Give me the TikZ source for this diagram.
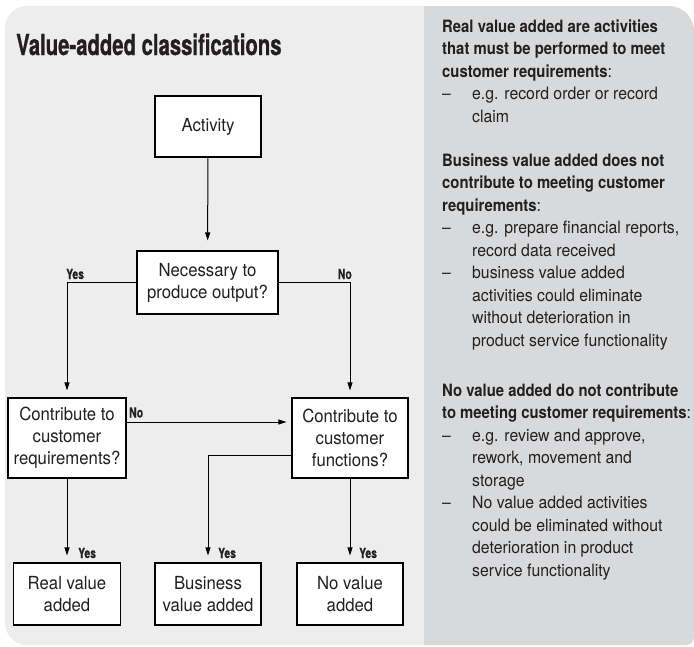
\documentclass[tikz,border=0pt]{standalone}
\usepackage{fontspec}
\setmainfont{TeX Gyre Heros}[FakeStretch=0.93,BoldFeatures={FakeStretch=0.875}]
\newfontfamily\condfont{TeX Gyre Heros}[FakeStretch=0.70,BoldFeatures={FakeStretch=0.70,FakeBold=0.6}]
\newfontfamily\tagfont{TeX Gyre Heros}[FakeStretch=0.74,BoldFeatures={FakeStretch=0.74,FakeBold=0.5}]
\usetikzlibrary{arrows.meta}

\definecolor{lightbg}{RGB}{237,237,237}
\definecolor{darkbg}{RGB}{216,217,218}
\definecolor{ink}{RGB}{35,31,32}

% bullet dash and continuation indent for the notes column
\newcommand\dashitem{\makebox[30pt][l]{--}}
\newcommand\contline{\hspace*{30pt}}

\begin{document}
\begin{tikzpicture}[x=1pt,y=-1pt,
  box/.style={draw=black,line width=1.1pt,fill=white,align=center,inner sep=0pt,
              text=ink,font=\fontsize{18}{22}\selectfont},
  link/.style={draw=black,line width=1pt,shorten >=7pt,
               -{Triangle[length=8pt,width=5pt]}},
  tag/.style={inner sep=0pt,text=ink,font=\tagfont\bfseries\fontsize{14}{16}\selectfont},
  note/.style={inner sep=0pt,anchor=base west,text=ink},
]
\useasboundingbox (0,0) rectangle (694,646);

% panels
\fill[lightbg,rounded corners=22pt] (5,6) rectangle (460,645);
\fill[darkbg] (424,6) -- (669,6) arc[start angle=270,end angle=360,radius=25]
  -- (694,637) arc[start angle=0,end angle=90,radius=8] -- (424,645) -- cycle;

% title
\node[inner sep=0pt,anchor=base west,text=ink,font=\condfont\bfseries\fontsize{29}{32}\selectfont]
  (title) at (16,55) {Value-added classifications};

% flowchart boxes
\node[box,minimum width=106pt,minimum height=61pt] (act) at (208,126.5) {Activity};
\node[box,minimum width=141pt,minimum height=63pt] (nec) at (207.5,282.5) {Necessary to\\produce output?};
\node[box,minimum width=118pt,minimum height=80pt] (creq) at (67,438) {Contribute to\\customer\\requirements?};
\node[box,minimum width=116pt,minimum height=80pt] (cfun) at (350,438) {Contribute to\\customer\\functions?};
\node[box,minimum width=107pt,minimum height=62pt] (real) at (67,594) {Real value\\added};
\node[box,minimum width=106pt,minimum height=62pt] (bus) at (208,594) {Business\\value added};
\node[box,minimum width=106pt,minimum height=62pt] (nova) at (350,594) {No value\\added};

% heights of the two horizontal links
\coordinate (noy) at (0,422);
\coordinate (busy) at (0,455);

% connectors
\draw[link,shorten >=10pt] (act) -- (nec);
\draw[link] (nec.west) -| (creq.north);
\draw[link] (nec.east) -| (cfun.north);
\draw[link,shorten >=5pt] (creq.east |- noy) -- (cfun.west |- noy);
\draw[link] (cfun.west |- busy) -| (bus.north);
\draw[link] (creq) -- (real);
\draw[link] (cfun) -- (nova);

% branch labels
\node[tag,anchor=base west] (yes1) at (66,279) {Yes};
\node[tag,anchor=base east] (no1) at (352,279) {No};
\node[tag,anchor=base west] (no2) at (129,417.5) {No};
\node[tag,anchor=base west] (yes2) at (78,558) {Yes};
\node[tag,anchor=base west] (yes3) at (218,558) {Yes};
\node[tag,anchor=base west] (yes4) at (359,558) {Yes};

% notes column
\node[note] (rva) at (442,32) {\parbox[t]{320pt}{\fontsize{17}{22.5}\selectfont\raggedright
  \textbf{Real value added are activities}\\
  \textbf{that must be performed to meet}\\
  \textbf{customer requirements}:\\
  \dashitem e.g. record order or record\\
  \contline claim}};
\node[note] (bva) at (442,166) {\parbox[t]{320pt}{\fontsize{17}{22.5}\selectfont\raggedright
  \textbf{Business value added does not}\\
  \textbf{contribute to meeting customer}\\
  \textbf{requirements}:\\
  \dashitem e.g. prepare financial reports,\\
  \contline record data received\\
  \dashitem business value added\\
  \contline activities could eliminate\\
  \contline without deterioration in\\
  \contline product service functionality}};
\node[note] (nva) at (442,396) {\parbox[t]{320pt}{\fontsize{17}{22.5}\selectfont\raggedright
  \textbf{No value added do not contribute}\\
  \textbf{to meeting customer requirements}:\\
  \dashitem e.g. review and approve,\\
  \contline rework, movement and\\
  \contline storage\\
  \dashitem No value added activities\\
  \contline could be eliminated without\\
  \contline deterioration in product\\
  \contline service functionality}};
\end{tikzpicture}
\end{document}
